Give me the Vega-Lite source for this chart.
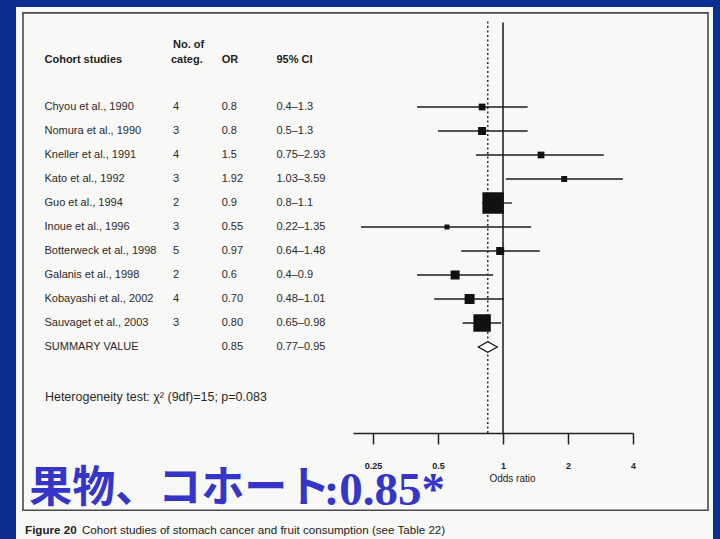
{
  "$schema": "https://vega.github.io/schema/vega-lite/v6.json",
  "width": 697,
  "height": 532,
  "padding": {"left": 16, "top": 7, "right": 7, "bottom": 0},
  "autosize": {"type": "none"},
  "background": "#0b2f91",
  "config": {"view": {"fill": "#f8f8f6", "stroke": null}, "font": "Liberation Sans", "text": {"font": "Liberation Sans"}},
  "datasets": {
    "studies": [
      {"study": "Chyou et al., 1990", "categ": "4", "or_label": "0.8", "ci": "0.4–1.3", "or": 0.8, "lo": 0.4, "hi": 1.3, "weight": 3.7, "row": 1, "summary": false},
      {"study": "Nomura et al., 1990", "categ": "3", "or_label": "0.8", "ci": "0.5–1.3", "or": 0.8, "lo": 0.5, "hi": 1.3, "weight": 5.2, "row": 2, "summary": false},
      {"study": "Kneller et al., 1991", "categ": "4", "or_label": "1.5", "ci": "0.75–2.93", "or": 1.5, "lo": 0.75, "hi": 2.93, "weight": 3.7, "row": 3, "summary": false},
      {"study": "Kato et al., 1992", "categ": "3", "or_label": "1.92", "ci": "1.03–3.59", "or": 1.92, "lo": 1.03, "hi": 3.59, "weight": 2.9, "row": 4, "summary": false},
      {"study": "Guo et al., 1994", "categ": "2", "or_label": "0.9", "ci": "0.8–1.1", "or": 0.9, "lo": 0.8, "hi": 1.1, "weight": 37.6, "row": 5, "summary": false},
      {"study": "Inoue et al., 1996", "categ": "3", "or_label": "0.55", "ci": "0.22–1.35", "or": 0.55, "lo": 0.22, "hi": 1.35, "weight": 2.0, "row": 6, "summary": false},
      {"study": "Botterweck et al., 1998", "categ": "5", "or_label": "0.97", "ci": "0.64–1.48", "or": 0.97, "lo": 0.64, "hi": 1.48, "weight": 5.2, "row": 7, "summary": false},
      {"study": "Galanis et al., 1998", "categ": "2", "or_label": "0.6", "ci": "0.4–0.9", "or": 0.6, "lo": 0.4, "hi": 0.9, "weight": 6.6, "row": 8, "summary": false},
      {"study": "Kobayashi et al., 2002", "categ": "4", "or_label": "0.70", "ci": "0.48–1.01", "or": 0.7, "lo": 0.48, "hi": 1.01, "weight": 8.1, "row": 9, "summary": false},
      {"study": "Sauvaget et al., 2003", "categ": "3", "or_label": "0.80", "ci": "0.65–0.98", "or": 0.8, "lo": 0.65, "hi": 0.98, "weight": 24.9, "row": 10, "summary": false},
      {"study": "SUMMARY VALUE", "categ": "", "or_label": "0.85", "ci": "0.77–0.95", "or": 0.85, "lo": 0.77, "hi": 0.95, "weight": null, "row": 11, "summary": true}
    ]
  },
  "layer": [
    {
      "data": {"name": "studies"},
      "layer": [
        {
          "data": {"values": [{}]},
          "mark": {"type": "rect", "fill": null, "stroke": "#4a4a4a", "strokeWidth": 1.6},
          "encoding": {
            "x": {"datum": 0, "type": "quantitative", "scale": {"domain": [0, 100], "range": [7, 692]}, "axis": null},
            "x2": {"datum": 100},
            "y": {"datum": -2.92, "type": "quantitative", "scale": {"domain": [-3, 19], "range": [4, 532], "nice": false, "zero": false}, "axis": null},
            "y2": {"datum": 17.8}
          }
        },
        {
          "data": {"values": [{}]},
          "mark": {"type": "text", "text": "Cohort studies", "fontWeight": "bold", "fontSize": 11, "align": "left", "baseline": "middle", "color": "#222"},
          "encoding": {
            "x": {"datum": 3.14, "type": "quantitative", "scale": {"domain": [0, 100], "range": [7, 692]}, "axis": null},
            "y": {"datum": -0.96, "type": "quantitative", "scale": {"domain": [-3, 19], "range": [4, 532], "nice": false, "zero": false}, "axis": null}
          }
        },
        {
          "data": {"values": [{}]},
          "mark": {"type": "text", "text": "No. of", "fontWeight": "bold", "fontSize": 11, "align": "left", "baseline": "middle", "color": "#222"},
          "encoding": {
            "x": {"datum": 21.9, "type": "quantitative", "scale": {"domain": [0, 100], "range": [7, 692]}, "axis": null},
            "y": {"datum": -1.58, "type": "quantitative", "scale": {"domain": [-3, 19], "range": [4, 532], "nice": false, "zero": false}, "axis": null}
          }
        },
        {
          "data": {"values": [{}]},
          "mark": {"type": "text", "text": "categ.", "fontWeight": "bold", "fontSize": 11, "align": "left", "baseline": "middle", "color": "#222"},
          "encoding": {
            "x": {"datum": 21.6, "type": "quantitative", "scale": {"domain": [0, 100], "range": [7, 692]}, "axis": null},
            "y": {"datum": -0.96, "type": "quantitative", "scale": {"domain": [-3, 19], "range": [4, 532], "nice": false, "zero": false}, "axis": null}
          }
        },
        {
          "data": {"values": [{}]},
          "mark": {"type": "text", "text": "OR", "fontWeight": "bold", "fontSize": 11, "align": "left", "baseline": "middle", "color": "#222"},
          "encoding": {
            "x": {"datum": 29.0, "type": "quantitative", "scale": {"domain": [0, 100], "range": [7, 692]}, "axis": null},
            "y": {"datum": -0.96, "type": "quantitative", "scale": {"domain": [-3, 19], "range": [4, 532], "nice": false, "zero": false}, "axis": null}
          }
        },
        {
          "data": {"values": [{}]},
          "mark": {"type": "text", "text": "95% CI", "fontWeight": "bold", "fontSize": 11, "align": "left", "baseline": "middle", "color": "#222"},
          "encoding": {
            "x": {"datum": 37.0, "type": "quantitative", "scale": {"domain": [0, 100], "range": [7, 692]}, "axis": null},
            "y": {"datum": -0.96, "type": "quantitative", "scale": {"domain": [-3, 19], "range": [4, 532], "nice": false, "zero": false}, "axis": null}
          }
        },
        {
          "mark": {"type": "text", "fontSize": 11, "align": "left", "baseline": "middle", "color": "#2a2a2a"},
          "encoding": {
            "text": {"field": "study"},
            "x": {"datum": 3.14, "type": "quantitative", "scale": {"domain": [0, 100], "range": [7, 692]}, "axis": null},
            "y": {"field": "row", "type": "quantitative", "scale": {"domain": [-3, 19], "range": [4, 532], "nice": false, "zero": false}, "axis": null}
          }
        },
        {
          "mark": {"type": "text", "fontSize": 11, "align": "left", "baseline": "middle", "color": "#2a2a2a"},
          "encoding": {
            "text": {"field": "categ"},
            "x": {"datum": 21.9, "type": "quantitative", "scale": {"domain": [0, 100], "range": [7, 692]}, "axis": null},
            "y": {"field": "row", "type": "quantitative", "scale": {"domain": [-3, 19], "range": [4, 532], "nice": false, "zero": false}, "axis": null}
          }
        },
        {
          "mark": {"type": "text", "fontSize": 11, "align": "left", "baseline": "middle", "color": "#2a2a2a"},
          "encoding": {
            "text": {"field": "or_label"},
            "x": {"datum": 29.0, "type": "quantitative", "scale": {"domain": [0, 100], "range": [7, 692]}, "axis": null},
            "y": {"field": "row", "type": "quantitative", "scale": {"domain": [-3, 19], "range": [4, 532], "nice": false, "zero": false}, "axis": null}
          }
        },
        {
          "mark": {"type": "text", "fontSize": 11, "align": "left", "baseline": "middle", "color": "#2a2a2a"},
          "encoding": {
            "text": {"field": "ci"},
            "x": {"datum": 37.0, "type": "quantitative", "scale": {"domain": [0, 100], "range": [7, 692]}, "axis": null},
            "y": {"field": "row", "type": "quantitative", "scale": {"domain": [-3, 19], "range": [4, 532], "nice": false, "zero": false}, "axis": null}
          }
        },
        {
          "data": {"values": [{}]},
          "mark": {"type": "text", "text": "Heterogeneity test:  χ² (9df)=15; p=0.083", "fontSize": 12.5, "align": "left", "baseline": "middle", "color": "#2a2a2a"},
          "encoding": {
            "x": {"datum": 3.2, "type": "quantitative", "scale": {"domain": [0, 100], "range": [7, 692]}, "axis": null},
            "y": {"datum": 13.08, "type": "quantitative", "scale": {"domain": [-3, 19], "range": [4, 532], "nice": false, "zero": false}, "axis": null}
          }
        },
        {
          "data": {"values": [{}]},
          "mark": {"type": "text", "text": "果物、コホート", "font": "Noto Sans CJK JP", "fontWeight": "bold", "fontSize": 43, "align": "left", "baseline": "alphabetic", "color": "#3535c8"},
          "encoding": {
            "x": {"datum": 0.9, "type": "quantitative", "scale": {"domain": [0, 100], "range": [7, 692]}, "axis": null},
            "y": {"datum": 17.45, "type": "quantitative", "scale": {"domain": [-3, 19], "range": [4, 532], "nice": false, "zero": false}, "axis": null}
          }
        },
        {
          "data": {"values": [{}]},
          "mark": {"type": "text", "text": ":0.85*", "font": "Liberation Serif", "fontWeight": "bold", "fontSize": 47, "align": "left", "baseline": "alphabetic", "color": "#3535c8"},
          "encoding": {
            "x": {"datum": 43.9, "type": "quantitative", "scale": {"domain": [0, 100], "range": [7, 692]}, "axis": null},
            "y": {"datum": 17.6, "type": "quantitative", "scale": {"domain": [-3, 19], "range": [4, 532], "nice": false, "zero": false}, "axis": null}
          }
        },
        {
          "data": {"values": [{}]},
          "mark": {"type": "text", "text": "Figure 20", "fontWeight": "bold", "fontSize": 11.6, "align": "left", "baseline": "middle", "color": "#222"},
          "encoding": {
            "x": {"datum": 0.3, "type": "quantitative", "scale": {"domain": [0, 100], "range": [7, 692]}, "axis": null},
            "y": {"datum": 18.65, "type": "quantitative", "scale": {"domain": [-3, 19], "range": [4, 532], "nice": false, "zero": false}, "axis": null}
          }
        },
        {
          "data": {"values": [{}]},
          "mark": {"type": "text", "text": "Cohort studies of stomach cancer and fruit consumption (see Table 22)", "fontSize": 11.6, "align": "left", "baseline": "middle", "color": "#222"},
          "encoding": {
            "x": {"datum": 8.6, "type": "quantitative", "scale": {"domain": [0, 100], "range": [7, 692]}, "axis": null},
            "y": {"datum": 18.65, "type": "quantitative", "scale": {"domain": [-3, 19], "range": [4, 532], "nice": false, "zero": false}, "axis": null}
          }
        }
      ]
    },
    {
      "data": {"name": "studies"},
      "layer": [
        {
          "data": {"values": [{}]},
          "mark": {"type": "rule", "color": "#1a1a1a", "strokeWidth": 1.5},
          "encoding": {
            "x": {"datum": 1, "type": "quantitative", "scale": {"type": "log", "domain": [0.2019, 4], "range": [337, 617], "nice": false}, "axis": {"orient": "bottom", "offset": -106, "values": [0.25, 0.5, 1, 2, 4], "labelExpr": "'' + datum.value", "title": "Odds ratio", "grid": false, "domainColor": "#222", "domainWidth": 1.5, "tickColor": "#222", "tickWidth": 1.5, "tickSize": 11, "labelPadding": 17, "labelFont": "Liberation Sans", "labelFontWeight": "bold", "labelFontSize": 9, "labelColor": "#222", "labelFlush": false, "labelOverlap": false, "titleFont": "Liberation Sans", "titleFontSize": 10, "titleFontWeight": "normal", "titleColor": "#222", "titleX": 496, "titleY": 45, "titleBaseline": "middle", "titleAlign": "center"}},
            "y": {"datum": -2.52, "type": "quantitative", "scale": {"domain": [-3, 19], "range": [4, 532], "nice": false, "zero": false}, "axis": null},
            "y2": {"datum": 14.58}
          }
        },
        {
          "data": {"values": [{}]},
          "mark": {"type": "rule", "color": "#222", "strokeWidth": 1.4, "strokeDash": [2, 2.5]},
          "encoding": {
            "x": {"datum": 0.85, "type": "quantitative", "scale": {"type": "log", "domain": [0.2019, 4], "range": [337, 617], "nice": false}, "axis": {"orient": "bottom", "offset": -106, "values": [0.25, 0.5, 1, 2, 4], "labelExpr": "'' + datum.value", "title": "Odds ratio", "grid": false, "domainColor": "#222", "domainWidth": 1.5, "tickColor": "#222", "tickWidth": 1.5, "tickSize": 11, "labelPadding": 17, "labelFont": "Liberation Sans", "labelFontWeight": "bold", "labelFontSize": 9, "labelColor": "#222", "labelFlush": false, "labelOverlap": false, "titleFont": "Liberation Sans", "titleFontSize": 10, "titleFontWeight": "normal", "titleColor": "#222", "titleX": 496, "titleY": 45, "titleBaseline": "middle", "titleAlign": "center"}},
            "y": {"datum": -2.56, "type": "quantitative", "scale": {"domain": [-3, 19], "range": [4, 532], "nice": false, "zero": false}, "axis": null},
            "y2": {"datum": 14.58}
          }
        },
        {
          "transform": [{"filter": "!datum.summary"}],
          "mark": {"type": "rule", "color": "#1e1e1e", "strokeWidth": 1.3},
          "encoding": {
            "x": {"field": "lo", "type": "quantitative", "scale": {"type": "log", "domain": [0.2019, 4], "range": [337, 617], "nice": false}, "axis": {"orient": "bottom", "offset": -106, "values": [0.25, 0.5, 1, 2, 4], "labelExpr": "'' + datum.value", "title": "Odds ratio", "grid": false, "domainColor": "#222", "domainWidth": 1.5, "tickColor": "#222", "tickWidth": 1.5, "tickSize": 11, "labelPadding": 17, "labelFont": "Liberation Sans", "labelFontWeight": "bold", "labelFontSize": 9, "labelColor": "#222", "labelFlush": false, "labelOverlap": false, "titleFont": "Liberation Sans", "titleFontSize": 10, "titleFontWeight": "normal", "titleColor": "#222", "titleX": 496, "titleY": 45, "titleBaseline": "middle", "titleAlign": "center"}},
            "x2": {"field": "hi"},
            "y": {"field": "row", "type": "quantitative", "scale": {"domain": [-3, 19], "range": [4, 532], "nice": false, "zero": false}, "axis": null}
          }
        },
        {
          "transform": [{"filter": "!datum.summary"}],
          "mark": {"type": "point", "shape": "square", "filled": true, "color": "#111", "opacity": 1, "strokeWidth": 0},
          "encoding": {
            "x": {"field": "or", "type": "quantitative", "scale": {"type": "log", "domain": [0.2019, 4], "range": [337, 617], "nice": false}, "axis": {"orient": "bottom", "offset": -106, "values": [0.25, 0.5, 1, 2, 4], "labelExpr": "'' + datum.value", "title": "Odds ratio", "grid": false, "domainColor": "#222", "domainWidth": 1.5, "tickColor": "#222", "tickWidth": 1.5, "tickSize": 11, "labelPadding": 17, "labelFont": "Liberation Sans", "labelFontWeight": "bold", "labelFontSize": 9, "labelColor": "#222", "labelFlush": false, "labelOverlap": false, "titleFont": "Liberation Sans", "titleFontSize": 10, "titleFontWeight": "normal", "titleColor": "#222", "titleX": 496, "titleY": 45, "titleBaseline": "middle", "titleAlign": "center"}},
            "y": {"field": "row", "type": "quantitative", "scale": {"domain": [-3, 19], "range": [4, 532], "nice": false, "zero": false}, "axis": null},
            "size": {"field": "weight", "type": "quantitative", "scale": {"domain": [0, 100], "range": [0, 1228]}, "legend": null}
          }
        },
        {
          "transform": [{"filter": "datum.summary"}],
          "mark": {"type": "point", "shape": "M-1,0L0,-0.55L1,0L0,0.55Z", "filled": false, "fill": "#ffffff", "stroke": "#111", "strokeWidth": 1.2, "opacity": 1, "size": 361},
          "encoding": {
            "x": {"field": "or", "type": "quantitative", "scale": {"type": "log", "domain": [0.2019, 4], "range": [337, 617], "nice": false}, "axis": {"orient": "bottom", "offset": -106, "values": [0.25, 0.5, 1, 2, 4], "labelExpr": "'' + datum.value", "title": "Odds ratio", "grid": false, "domainColor": "#222", "domainWidth": 1.5, "tickColor": "#222", "tickWidth": 1.5, "tickSize": 11, "labelPadding": 17, "labelFont": "Liberation Sans", "labelFontWeight": "bold", "labelFontSize": 9, "labelColor": "#222", "labelFlush": false, "labelOverlap": false, "titleFont": "Liberation Sans", "titleFontSize": 10, "titleFontWeight": "normal", "titleColor": "#222", "titleX": 496, "titleY": 45, "titleBaseline": "middle", "titleAlign": "center"}},
            "y": {"field": "row", "type": "quantitative", "scale": {"domain": [-3, 19], "range": [4, 532], "nice": false, "zero": false}, "axis": null}
          }
        }
      ]
    }
  ],
  "resolve": {"scale": {"x": "independent"}}
}
